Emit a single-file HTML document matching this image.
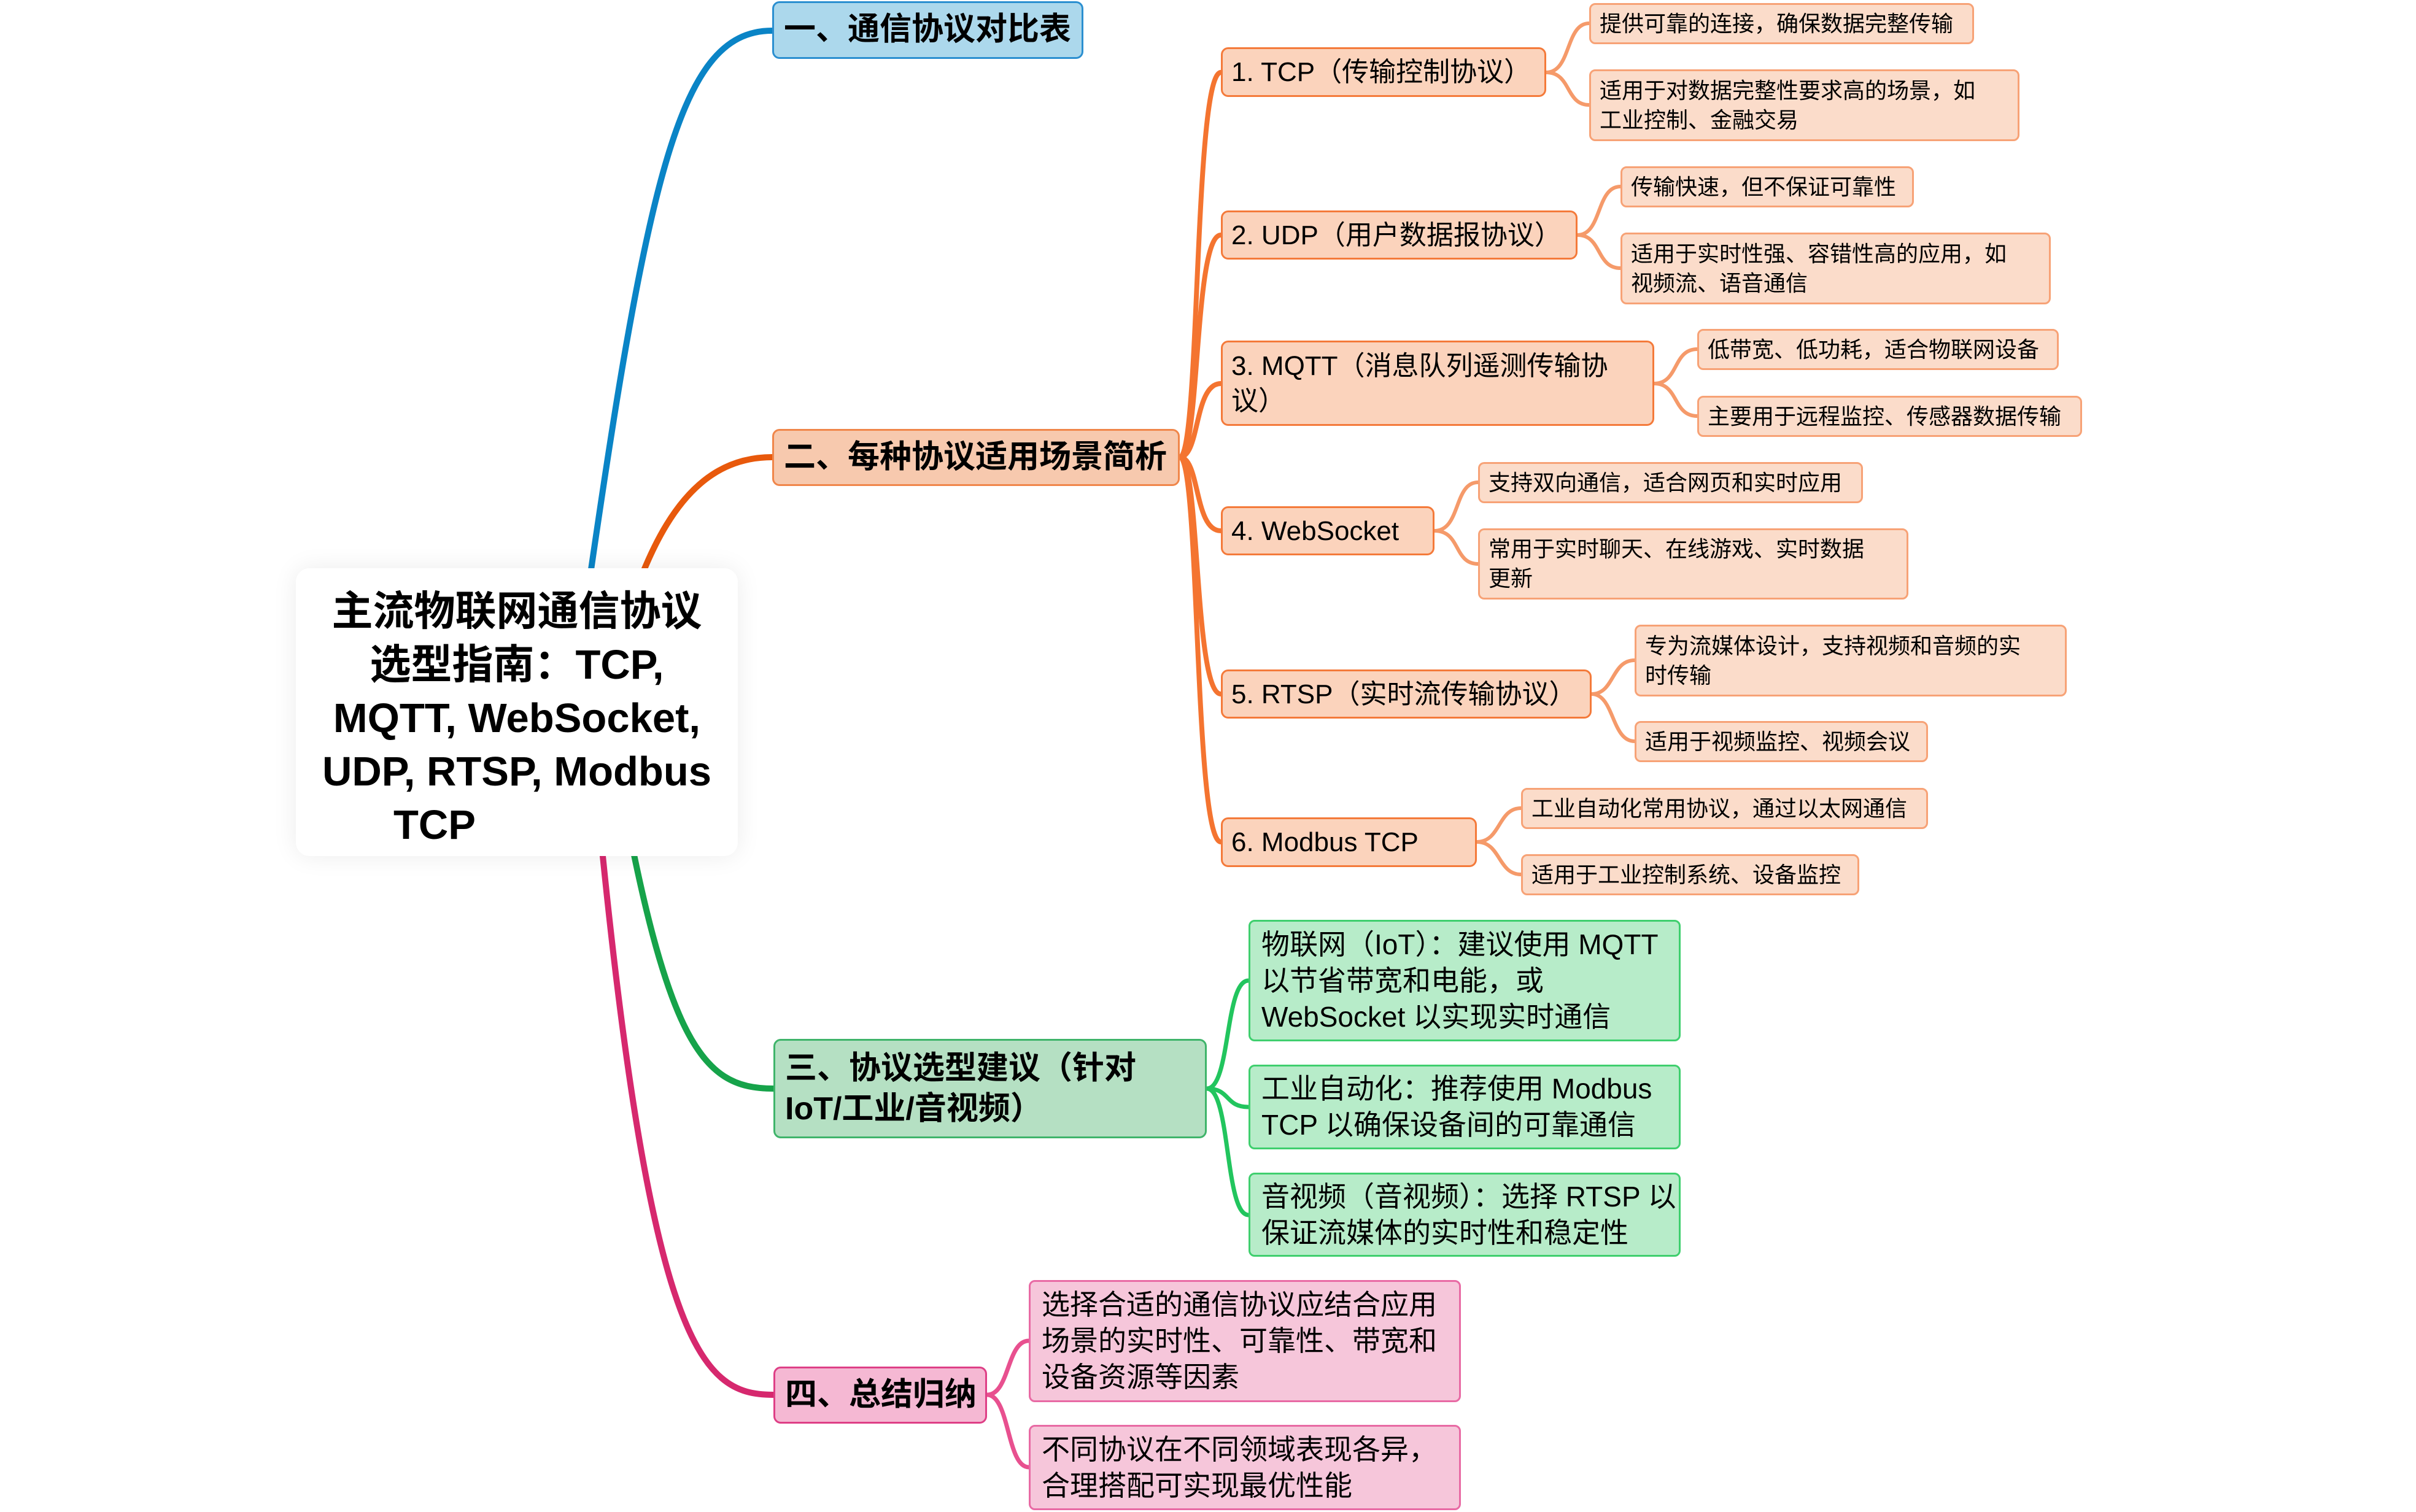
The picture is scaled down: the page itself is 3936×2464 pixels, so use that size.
<!DOCTYPE html>
<html><head><meta charset="utf-8">
<style>
html,body{margin:0;padding:0;background:#fff;}
body{width:3936px;height:2464px;position:relative;overflow:hidden;font-family:"Liberation Sans","Noto Sans CJK SC",sans-serif;color:#000;}
.b{position:absolute;box-sizing:border-box;display:flex;align-items:center;padding-left:14px;line-height:1.3;}
.m{font-weight:bold;font-size:52px;border-radius:12px;border:3px solid;padding-left:16px;}
.c{font-size:44px;background:#fbd3bc;border:3px solid #f47a3a;border-radius:12px;padding-left:14px;line-height:57px;}
.l{font-size:36px;background:#fbdcca;border:3px solid #f7a276;border-radius:10px;padding-left:14px;line-height:48px;}
.g{font-size:46px;background:#b7ecc9;border:3px solid #3fcf6e;border-radius:10px;padding-left:18px;line-height:59px;}
.p{font-size:46px;background:#f6c6da;border:3px solid #e86aa4;border-radius:10px;padding-left:18px;line-height:59px;}
svg{position:absolute;left:0;top:0;}
</style></head><body>
<svg width="3936" height="2464" viewBox="0 0 3936 2464" fill="none" stroke-linecap="round">
<!-- root to mains -->
<path d="M930 1160 C1050 300 1100 50 1258 50" stroke="#0a84c6" stroke-width="10"/>
<path d="M980 1160 C1040 900 1110 745 1258 745" stroke="#e8590c" stroke-width="10"/>
<path d="M990 1160 C1080 1700 1140 1774 1260 1774" stroke="#16a34a" stroke-width="10"/>
<path d="M960 1160 C1050 2200 1140 2273 1260 2273" stroke="#d6286e" stroke-width="10"/>
<!-- orange secondaries -->
<g stroke="#f47430" stroke-width="8">
<path d="M1922 745 C1955 745 1945 118 1989 118"/>
<path d="M1922 745 C1955 745 1945 383 1989 383"/>
<path d="M1922 745 C1955 745 1945 625 1989 625"/>
<path d="M1922 745 C1955 745 1945 865 1989 865"/>
<path d="M1922 745 C1955 745 1945 1131 1989 1131"/>
<path d="M1922 745 C1955 745 1945 1372 1989 1372"/>
</g>
<!-- leaf connectors -->
<g stroke="#f59a6a" stroke-width="6">
<path d="M2519 118 C2560 118 2550 38 2589 38"/>
<path d="M2519 118 C2560 118 2550 171 2589 171"/>
<path d="M2570 383 C2610 383 2600 304 2640 304"/>
<path d="M2570 383 C2610 383 2600 437 2640 437"/>
<path d="M2695 625 C2735 625 2725 569 2765 569"/>
<path d="M2695 625 C2735 625 2725 678 2765 678"/>
<path d="M2337 865 C2380 865 2368 786 2408 786"/>
<path d="M2337 865 C2380 865 2368 919 2408 919"/>
<path d="M2593 1131 C2630 1131 2625 1076 2663 1076"/>
<path d="M2593 1131 C2630 1131 2625 1208 2663 1208"/>
<path d="M2406 1372 C2445 1372 2440 1317 2478 1317"/>
<path d="M2406 1372 C2445 1372 2440 1425 2478 1425"/>
</g>
<g stroke="#22c55e" stroke-width="7">
<path d="M1966 1774 C2005 1774 1995 1598 2034 1598"/>
<path d="M1966 1774 C2005 1774 1995 1804 2034 1804"/>
<path d="M1966 1774 C2005 1774 1995 1980 2034 1980"/>
</g>
<g stroke="#e8508f" stroke-width="7">
<path d="M1608 2273 C1645 2273 1640 2185 1676 2185"/>
<path d="M1608 2273 C1645 2273 1640 2391 1676 2391"/>
</g>
</svg>

<!-- root -->
<div style="position:absolute;left:482px;top:926px;width:720px;height:469px;background:#fff;border-radius:22px;box-shadow:0 0 40px rgba(0,0,0,0.08);"></div>
<div style="position:absolute;left:482px;top:953px;width:720px;text-align:center;font-weight:bold;font-size:67px;line-height:87px;">主流物联网通信协议<br>选型指南：TCP,<br>MQTT, WebSocket,<br>UDP, RTSP, Modbus<br><span style="position:relative;left:-134px;">TCP</span></div>

<!-- mains -->
<div class="b m" style="left:1258px;top:2px;width:507px;height:94px;background:#acd8ec;border-color:#2b8fd0;">一、通信协议对比表</div>
<div class="b m" style="left:1258px;top:699px;width:664px;height:93px;background:#f7c9ae;border-color:#f0864a;">二、每种协议适用场景简析</div>
<div class="b m" style="left:1260px;top:1693px;width:706px;height:162px;background:#b5e0c3;border-color:#3fb46a;line-height:66px;">三、协议选型建议（针对<br>IoT/工业/音视频）</div>
<div class="b m" style="left:1260px;top:2227px;width:348px;height:93px;background:#f5b8d3;border-color:#de3f86;">四、总结归纳</div>

<!-- orange children -->
<div class="b c" style="left:1989px;top:77px;width:530px;height:81px;">1. TCP（传输控制协议）</div>
<div class="b c" style="left:1989px;top:343px;width:581px;height:80px;">2. UDP（用户数据报协议）</div>
<div class="b c" style="left:1989px;top:555px;width:706px;height:139px;">3. MQTT（消息队列遥测传输协<br>议）</div>
<div class="b c" style="left:1989px;top:825px;width:348px;height:80px;">4. WebSocket</div>
<div class="b c" style="left:1989px;top:1091px;width:604px;height:80px;">5. RTSP（实时流传输协议）</div>
<div class="b c" style="left:1989px;top:1332px;width:417px;height:81px;">6. Modbus TCP</div>

<!-- leaves -->
<div class="b l" style="left:2589px;top:5px;width:627px;height:67px;">提供可靠的连接，确保数据完整传输</div>
<div class="b l" style="left:2589px;top:113px;width:701px;height:117px;">适用于对数据完整性要求高的场景，如<br>工业控制、金融交易</div>
<div class="b l" style="left:2640px;top:271px;width:478px;height:67px;">传输快速，但不保证可靠性</div>
<div class="b l" style="left:2640px;top:379px;width:701px;height:117px;">适用于实时性强、容错性高的应用，如<br>视频流、语音通信</div>
<div class="b l" style="left:2765px;top:536px;width:589px;height:67px;">低带宽、低功耗，适合物联网设备</div>
<div class="b l" style="left:2765px;top:645px;width:627px;height:67px;">主要用于远程监控、传感器数据传输</div>
<div class="b l" style="left:2408px;top:753px;width:627px;height:67px;">支持双向通信，适合网页和实时应用</div>
<div class="b l" style="left:2408px;top:861px;width:701px;height:116px;">常用于实时聊天、在线游戏、实时数据<br>更新</div>
<div class="b l" style="left:2663px;top:1018px;width:704px;height:117px;">专为流媒体设计，支持视频和音频的实<br>时传输</div>
<div class="b l" style="left:2663px;top:1175px;width:478px;height:67px;">适用于视频监控、视频会议</div>
<div class="b l" style="left:2478px;top:1284px;width:663px;height:67px;">工业自动化常用协议，通过以太网通信</div>
<div class="b l" style="left:2478px;top:1392px;width:551px;height:67px;">适用于工业控制系统、设备监控</div>

<div class="b g" style="left:2034px;top:1499px;width:704px;height:198px;">物联网（IoT）：建议使用 MQTT<br>以节省带宽和电能，或<br>WebSocket 以实现实时通信</div>
<div class="b g" style="left:2034px;top:1735px;width:704px;height:138px;">工业自动化：推荐使用 Modbus<br>TCP 以确保设备间的可靠通信</div>
<div class="b g" style="left:2034px;top:1911px;width:704px;height:137px;">音视频（音视频）：选择 RTSP 以<br>保证流媒体的实时性和稳定性</div>

<div class="b p" style="left:1676px;top:2086px;width:704px;height:199px;">选择合适的通信协议应结合应用<br>场景的实时性、可靠性、带宽和<br>设备资源等因素</div>
<div class="b p" style="left:1676px;top:2322px;width:704px;height:139px;">不同协议在不同领域表现各异，<br>合理搭配可实现最优性能</div>
</body></html>
